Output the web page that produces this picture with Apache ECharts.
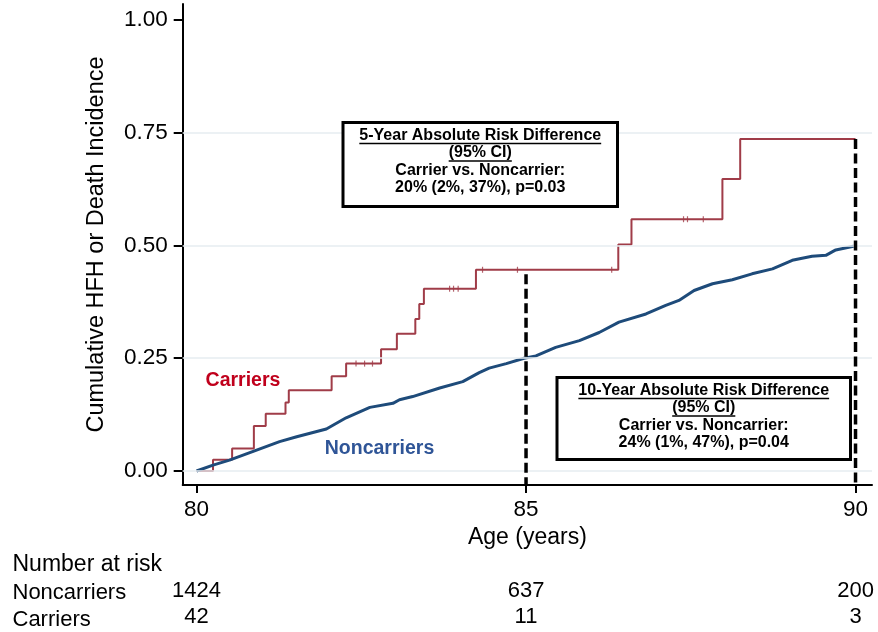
<!DOCTYPE html>
<html><head><meta charset="utf-8">
<script src="https://cdn.jsdelivr.net/npm/echarts@6/dist/echarts.min.js"></script>
<style>html,body{margin:0;padding:0;background:#fff}#c{width:878px;height:632px}</style>
</head><body><div id="c"></div>
<script>
// ---- data ----
const carrierAges = [80.00, 80.25, 80.54, 80.87, 81.05, 81.35, 81.40, 82.05, 82.27, 82.80, 83.04, 83.32, 83.38, 83.45, 84.24, 86.40, 86.60, 87.98, 88.25, 90.00];
const carrierInc  = [0, 0.025, 0.050, 0.100, 0.127, 0.152, 0.179, 0.210, 0.238, 0.270, 0.304, 0.337, 0.370, 0.404, 0.446, 0.502, 0.558, 0.647, 0.736, 0.736];
const censorAges = [82.42, 82.55, 82.67, 83.84, 83.90, 83.97, 84.34, 84.87, 86.30, 87.39, 87.45, 87.69];
const censorInc  = [0.238, 0.238, 0.238, 0.404, 0.404, 0.404, 0.446, 0.446, 0.446, 0.558, 0.558, 0.558];
const noncarrierAges = [80.00, 80.25, 80.50, 80.87, 81.26, 81.52, 81.97, 82.27, 82.63, 82.98, 83.08, 83.28, 83.69, 84.04, 84.29, 84.44, 84.70, 84.97, 85.15, 85.45, 85.81, 86.11, 86.41, 86.82, 87.12, 87.32, 87.55, 87.83, 88.13, 88.43, 88.74, 89.04, 89.34, 89.55, 89.70, 89.97];
const noncarrierInc  = [0, 0.013, 0.024, 0.044, 0.065, 0.076, 0.093, 0.118, 0.141, 0.150, 0.158, 0.165, 0.184, 0.198, 0.218, 0.228, 0.238, 0.250, 0.255, 0.274, 0.289, 0.307, 0.330, 0.348, 0.367, 0.378, 0.400, 0.415, 0.424, 0.437, 0.448, 0.467, 0.476, 0.478, 0.490, 0.498];
const refAges = [85, 90];
const refTops = [0.436, 0.736];
const xTicks = [80, 85, 90];
const yTicks = [0, 0.25, 0.5, 0.75, 1.0];
const gridValues = [0, 0.25, 0.5, 0.75];
const riskAges = [80, 85, 90];
const riskNoncarriers = [1424, 637, 200];
const riskCarriers = [42, 11, 3];
const box5 = ['5-Year Absolute Risk Difference', '(95% CI)', 'Carrier vs. Noncarrier:', '20% (2%, 37%), p=0.03'];
const box10 = ['10-Year Absolute Risk Difference', '(95% CI)', 'Carrier vs. Noncarrier:', '24% (1%, 47%), p=0.04'];

const FONT = '"Liberation Sans", Arial, Helvetica, sans-serif';
const X_MIN = 79.79, X_MAX = 90.25, Y_MIN = -0.031, Y_MAX = 1.035;
const RED = '#a03c48', BLUE = '#1e4b7a';

const chart = echarts.init(document.getElementById('c'), null, {renderer: 'canvas'});

const zip = (a, b) => a.map((v, i) => [v, b[i]]);

const series = [
  {
    type: 'line', name: 'grid', data: [[80, 0]], showSymbol: false, silent: true, z: 1,
    lineStyle: {opacity: 0},
    markLine: {
      silent: true, symbol: 'none', animation: false,
      label: {show: false},
      lineStyle: {color: '#e6edf1', width: 1.5, type: 'solid'},
      data: gridValues.map(v => ({yAxis: v}))
    }
  },
  {
    type: 'line', name: 'Carriers', data: zip(carrierAges, carrierInc), step: 'end',
    showSymbol: false, z: 3, lineStyle: {color: RED, width: 2}, itemStyle: {color: RED}
  },
  {
    type: 'scatter', name: 'censor', data: zip(censorAges, censorInc), z: 3,
    symbol: 'rect', symbolSize: [1.2, 6], itemStyle: {color: RED}
  },
  {
    type: 'line', name: 'Noncarriers', data: zip(noncarrierAges, noncarrierInc),
    showSymbol: false, z: 4, lineStyle: {color: BLUE, width: 3}, itemStyle: {color: BLUE}
  }
];
refAges.forEach((a, i) => {
  series.push({
    type: 'line', name: 'ref' + i, data: [[a, refTops[i]], [a, Y_MIN]], showSymbol: false, z: 5,
    lineStyle: {color: '#000', width: 3.5, type: [10, 4.5]}
  });
});

chart.setOption({
  animation: false,
  backgroundColor: '#fff',
  textStyle: {fontFamily: FONT},
  grid: {left: 182.7, right: 6, top: 4, bottom: 147, containLabel: false},
  xAxis: {
    type: 'value', min: X_MIN, max: X_MAX,
    name: 'Age (years)', nameLocation: 'middle', nameGap: 36,
    nameTextStyle: {fontSize: 23, color: '#000', fontFamily: FONT},
    axisLine: {show: true, onZero: false, lineStyle: {color: '#000', width: 2}},
    axisTick: {show: true, customValues: xTicks, length: 8, lineStyle: {color: '#000', width: 2}},
    axisLabel: {customValues: xTicks, fontSize: 22.5, color: '#000', margin: 13, fontFamily: FONT},
    splitLine: {show: false}
  },
  yAxis: {
    type: 'value', min: Y_MIN, max: Y_MAX,
    name: 'Cumulative HFH or Death Incidence', nameLocation: 'middle', nameGap: 74,
    nameTextStyle: {fontSize: 23.5, color: '#000', fontFamily: FONT},
    axisLine: {show: true, onZero: false, lineStyle: {color: '#000', width: 2}},
    axisTick: {show: true, customValues: yTicks, length: 9, lineStyle: {color: '#000', width: 2}},
    axisLabel: {customValues: yTicks, fontSize: 22.5, color: '#000', margin: 15, fontFamily: FONT,
      formatter: v => Number(v).toFixed(2)},
    splitLine: {show: false}
  },
  series: series
});

// ---- annotations ----
const ctx = document.createElement('canvas').getContext('2d');
function textW(t, font) { ctx.font = font; return ctx.measureText(t).width; }

const graphics = [];
function txt(t, x, y, opts) {
  graphics.push({
    type: 'text', z: 100, silent: true,
    style: Object.assign({text: t, x: x, y: y, align: 'center', verticalAlign: 'middle',
      fontFamily: FONT, fontSize: 16, fontWeight: 'bold', fill: '#000'}, opts || {})
  });
}
function box(lines, left, top, right, bottom, ys) {
  graphics.push({
    type: 'rect', z: 90, silent: true,
    shape: {x: left + 1.5, y: top + 1.5, width: right - left - 3, height: bottom - top - 3},
    style: {fill: '#fff', stroke: '#000', lineWidth: 3}
  });
  const cx = (left + right) / 2;
  lines.forEach((l, i) => {
    txt(l, cx, ys[i]);
    if (i < 2) {
      const w = textW(l, 'bold 16px ' + FONT);
      graphics.push({
        type: 'line', z: 100, silent: true,
        shape: {x1: cx - w / 2, y1: ys[i] + 8, x2: cx + w / 2, y2: ys[i] + 8},
        style: {stroke: '#000', lineWidth: 1.3}
      });
    }
  });
}
box(box5, 341.5, 121, 619, 208, [135.5, 153, 170.5, 188]);
box(box10, 555.5, 376, 852, 461, [390.5, 408, 425.5, 443]);

txt('Carriers', 243, 381, {fontSize: 19.5, fill: '#c0001c'});
txt('Noncarriers', 379.5, 448.5, {fontSize: 19.5, fill: '#2f5597'});

// number at risk table
const tblFont = {fontSize: 22, fontWeight: 'normal', fill: '#000'};
txt('Number at risk', 12.5, 565, Object.assign({align: 'left', fontSize: 23}, tblFont, {fontSize: 23}));
txt('Noncarriers', 12.5, 593, Object.assign({align: 'left'}, tblFont));
txt('Carriers', 12.5, 619.5, Object.assign({align: 'left'}, tblFont));
riskAges.forEach((a, i) => {
  const px = chart.convertToPixel({xAxisIndex: 0}, a);
  txt(String(riskNoncarriers[i]), px, 591, tblFont);
  txt(String(riskCarriers[i]), px, 617, tblFont);
});

chart.setOption({graphic: graphics});
</script>
</body></html>
